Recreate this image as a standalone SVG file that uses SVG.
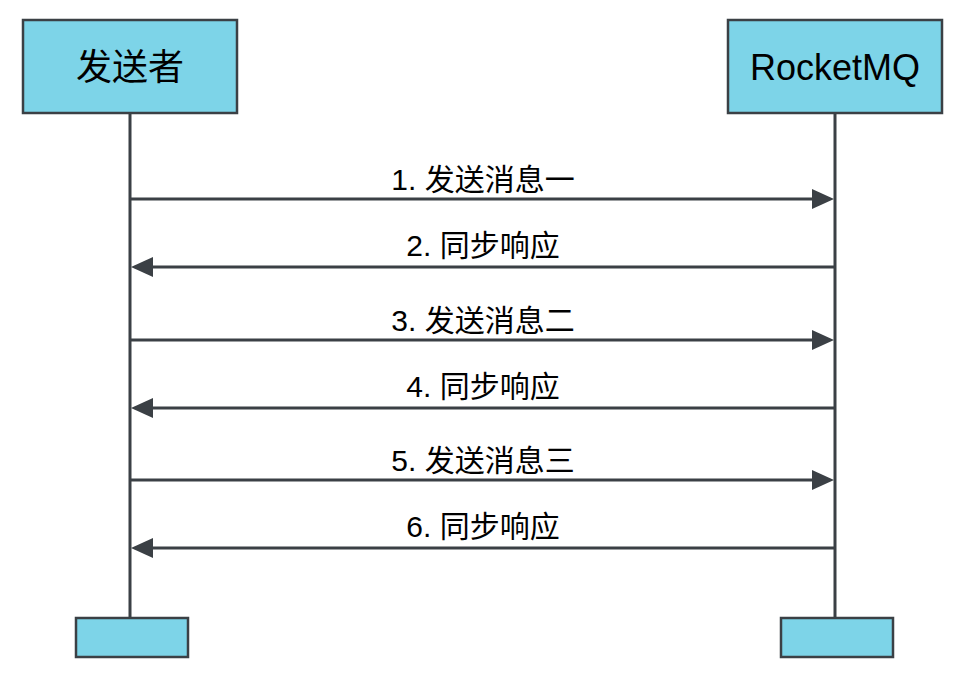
<svg xmlns="http://www.w3.org/2000/svg" width="963" height="674" viewBox="0 0 963 674">
<style>
.box{fill:#7dd4e8;stroke:#3b4045;stroke-width:2.5}
.life{stroke:#3b4045;stroke-width:3;fill:none}
.msg{stroke:#3b4045;stroke-width:3;fill:none}
.t{font-family:"Liberation Sans","Noto Sans CJK SC",sans-serif;fill:#000;text-anchor:middle}
.lbl{font-size:30px}
.head{font-size:36px}
</style>
<g id="connectors">
<line class="life" x1="130" y1="113" x2="130" y2="618"/>
<line class="life" x1="835" y1="113" x2="835" y2="618"/>
<path class="msg" d="M130,199 L812,199" />
<path d="M812,189 L834,199 L812,209 Z" fill="#3b4045"/>
<path class="msg" d="M835,267 L153,267" />
<path d="M153,257 L131,267 L153,277 Z" fill="#3b4045"/>
<path class="msg" d="M130,340 L812,340" />
<path d="M812,330 L834,340 L812,350 Z" fill="#3b4045"/>
<path class="msg" d="M835,408 L153,408" />
<path d="M153,398 L131,408 L153,418 Z" fill="#3b4045"/>
<path class="msg" d="M130,480 L812,480" />
<path d="M812,470 L834,480 L812,490 Z" fill="#3b4045"/>
<path class="msg" d="M835,548 L153,548" />
<path d="M153,538 L131,548 L153,558 Z" fill="#3b4045"/>
<text class="t lbl" x="483" y="190">1. 发送消息一</text>
<text class="t lbl" x="483" y="256">2. 同步响应</text>
<text class="t lbl" x="483" y="331">3. 发送消息二</text>
<text class="t lbl" x="483" y="397">4. 同步响应</text>
<text class="t lbl" x="483" y="471">5. 发送消息三</text>
<text class="t lbl" x="483" y="537">6. 同步响应</text>
</g>
<g id="sender">
<rect class="box" x="23" y="20" width="214" height="93"/>
<text class="t head" x="130" y="80">发送者</text>
</g>
<g id="rocketmq">
<rect class="box" x="728" y="20" width="214" height="93"/>
<text class="t head" x="835" y="80">RocketMQ</text>
</g>
<g id="sender-end">
<rect class="box" x="76" y="618" width="112" height="39"/>
</g>
<g id="rocketmq-end">
<rect class="box" x="781" y="618" width="112" height="39"/>
</g>
</svg>
